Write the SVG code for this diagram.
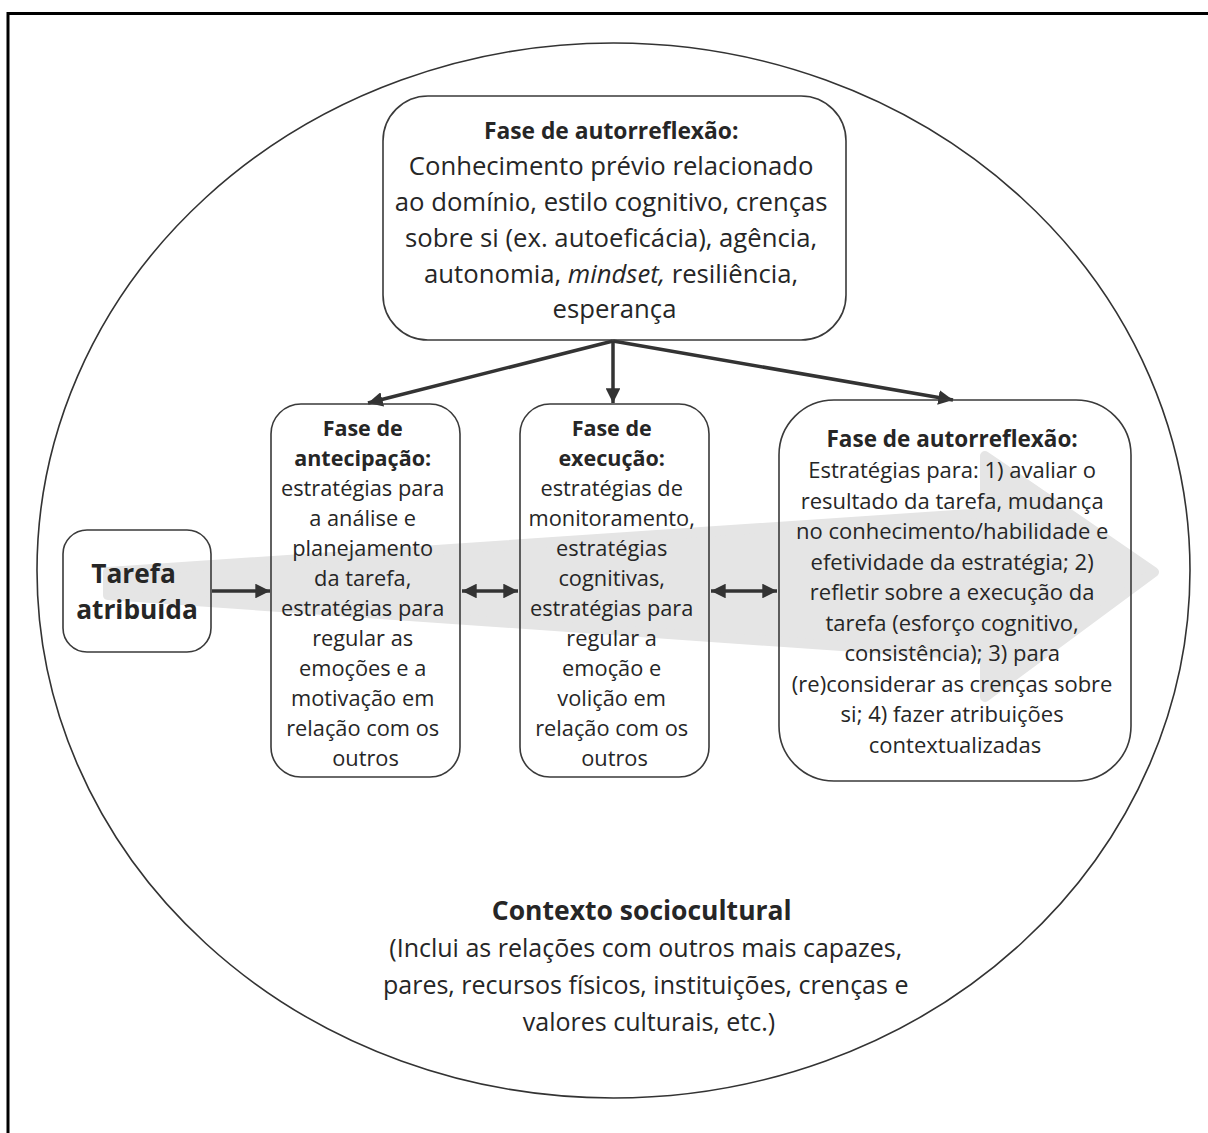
<svg xmlns="http://www.w3.org/2000/svg" width="1208" height="1133" viewBox="0 0 1208 1133">
  <defs>
    <style>
      .txt { font-family: "Open Sans", "Noto Sans", "Liberation Sans", sans-serif; fill: #262626; text-anchor: middle; }
      .b { font-weight: bold; }
      .box { fill: none; stroke: #3a3a3a; stroke-width: 1.6; }
      .link { fill: none; stroke: #333; stroke-width: 3.5; }
    </style>
    <marker id="head" viewBox="0 0 10 10" refX="10" refY="5" markerWidth="4.2" markerHeight="4.2" orient="auto-start-reverse" markerUnits="strokeWidth">
      <path d="M0,0 L10,5 L0,10 z" fill="#333"/>
    </marker>
  </defs>

  <rect width="1208" height="1133" fill="#fff"/>

  <!-- outer frame -->
  <rect x="8" y="13.5" width="1300" height="1300" fill="none" stroke="#000" stroke-width="3"/>

  <!-- sociocultural context ellipse -->
  <ellipse cx="613.5" cy="570.5" rx="576.5" ry="527.5" fill="none" stroke="#333" stroke-width="1.6"/>

  <!-- broad process arrow in the background -->
  <path d="M108,572 L985,513 L985,456 L1154,572 L985,697 L985,656 L108,595 Z" fill="#e5e5e5" stroke="#e5e5e5" stroke-width="10" stroke-linejoin="round"/>

  <g id="connectors">
    <line class="link" x1="613" y1="341" x2="368" y2="403" marker-end="url(#head)"/>
    <line class="link" x1="613" y1="341" x2="613" y2="403" marker-end="url(#head)"/>
    <line class="link" x1="613" y1="341" x2="953" y2="400" marker-end="url(#head)"/>
    <line class="link" x1="212" y1="591" x2="270" y2="591" marker-end="url(#head)"/>
    <line class="link" x1="462" y1="591" x2="518" y2="591" marker-start="url(#head)" marker-end="url(#head)"/>
    <line class="link" x1="711" y1="591" x2="777" y2="591" marker-start="url(#head)" marker-end="url(#head)"/>
  </g>

  <g id="prior-reflection">
    <rect class="box" x="383" y="96" width="463" height="244" rx="45"/>
    <text class="txt" font-size="25.7">
      <tspan class="b" font-size="22.8" x="614.5" y="139">Fase de autorreflexão:</tspan>
      <tspan x="614.5" y="175">Conhecimento prévio relacionado</tspan>
      <tspan x="614.5" y="211">ao domínio, estilo cognitivo, crenças</tspan>
      <tspan x="614.5" y="247">sobre si (ex. autoeficácia), agência,</tspan>
      <tspan x="614.5" y="283">autonomia, <tspan font-style="italic">mindset,</tspan> resiliência,</tspan>
      <tspan x="614.5" y="318">esperança</tspan>
    </text>
  </g>

  <g id="task">
    <rect class="box" x="63" y="530" width="148" height="122" rx="24"/>
    <text class="txt b" font-size="26.3">
      <tspan x="137" y="583">Tarefa</tspan>
      <tspan x="137" y="619">atribuída</tspan>
    </text>
  </g>

  <g id="forethought">
    <rect class="box" x="271" y="404" width="189" height="373" rx="30"/>
    <text class="txt" font-size="21.8">
      <tspan class="b" font-size="21.5" x="365.5" y="436">Fase de</tspan>
      <tspan class="b" font-size="21.5" x="365.5" y="466">antecipação:</tspan>
      <tspan x="365.5" y="496">estratégias para</tspan>
      <tspan x="365.5" y="526">a análise e</tspan>
      <tspan x="365.5" y="556">planejamento</tspan>
      <tspan x="365.5" y="586">da tarefa,</tspan>
      <tspan x="365.5" y="616">estratégias para</tspan>
      <tspan x="365.5" y="646">regular as</tspan>
      <tspan x="365.5" y="676">emoções e a</tspan>
      <tspan x="365.5" y="706">motivação em</tspan>
      <tspan x="365.5" y="736">relação com os</tspan>
      <tspan x="365.5" y="766">outros</tspan>
    </text>
  </g>

  <g id="performance">
    <rect class="box" x="520" y="404" width="189" height="373" rx="30"/>
    <text class="txt" font-size="21.8">
      <tspan class="b" font-size="21.5" x="614.5" y="436">Fase de</tspan>
      <tspan class="b" font-size="21.5" x="614.5" y="466">execução:</tspan>
      <tspan x="614.5" y="496">estratégias de</tspan>
      <tspan x="614.5" y="526">monitoramento,</tspan>
      <tspan x="614.5" y="556">estratégias</tspan>
      <tspan x="614.5" y="586">cognitivas,</tspan>
      <tspan x="614.5" y="616">estratégias para</tspan>
      <tspan x="614.5" y="646">regular a</tspan>
      <tspan x="614.5" y="676">emoção e</tspan>
      <tspan x="614.5" y="706">volição em</tspan>
      <tspan x="614.5" y="736">relação com os</tspan>
      <tspan x="614.5" y="766">outros</tspan>
    </text>
  </g>

  <g id="self-reflection">
    <rect class="box" x="779" y="400" width="352" height="381" rx="55"/>
    <text class="txt" font-size="22">
      <tspan class="b" font-size="22.5" x="955" y="447">Fase de autorreflexão:</tspan>
      <tspan x="955" y="478">Estratégias para: 1) avaliar o</tspan>
      <tspan x="955" y="508.5">resultado da tarefa, mudança</tspan>
      <tspan x="955" y="539">no conhecimento/habilidade e</tspan>
      <tspan x="955" y="569.5">efetividade da estratégia; 2)</tspan>
      <tspan x="955" y="600">refletir sobre a execução da</tspan>
      <tspan x="955" y="630.5">tarefa (esforço cognitivo,</tspan>
      <tspan x="955" y="661">consistência); 3) para</tspan>
      <tspan x="955" y="691.5">(re)considerar as crenças sobre</tspan>
      <tspan x="955" y="722">si; 4) fazer atribuições</tspan>
      <tspan x="955" y="752.5">contextualizadas</tspan>
    </text>
  </g>

  <g id="context">
    <text class="txt" font-size="25">
      <tspan class="b" font-size="26.5" x="645" y="920">Contexto sociocultural</tspan>
      <tspan x="649" y="957">(Inclui as relações com outros mais capazes,</tspan>
      <tspan x="649" y="994">pares, recursos físicos, instituições, crenças e</tspan>
      <tspan x="649" y="1031">valores culturais, etc.)</tspan>
    </text>
  </g>
</svg>
